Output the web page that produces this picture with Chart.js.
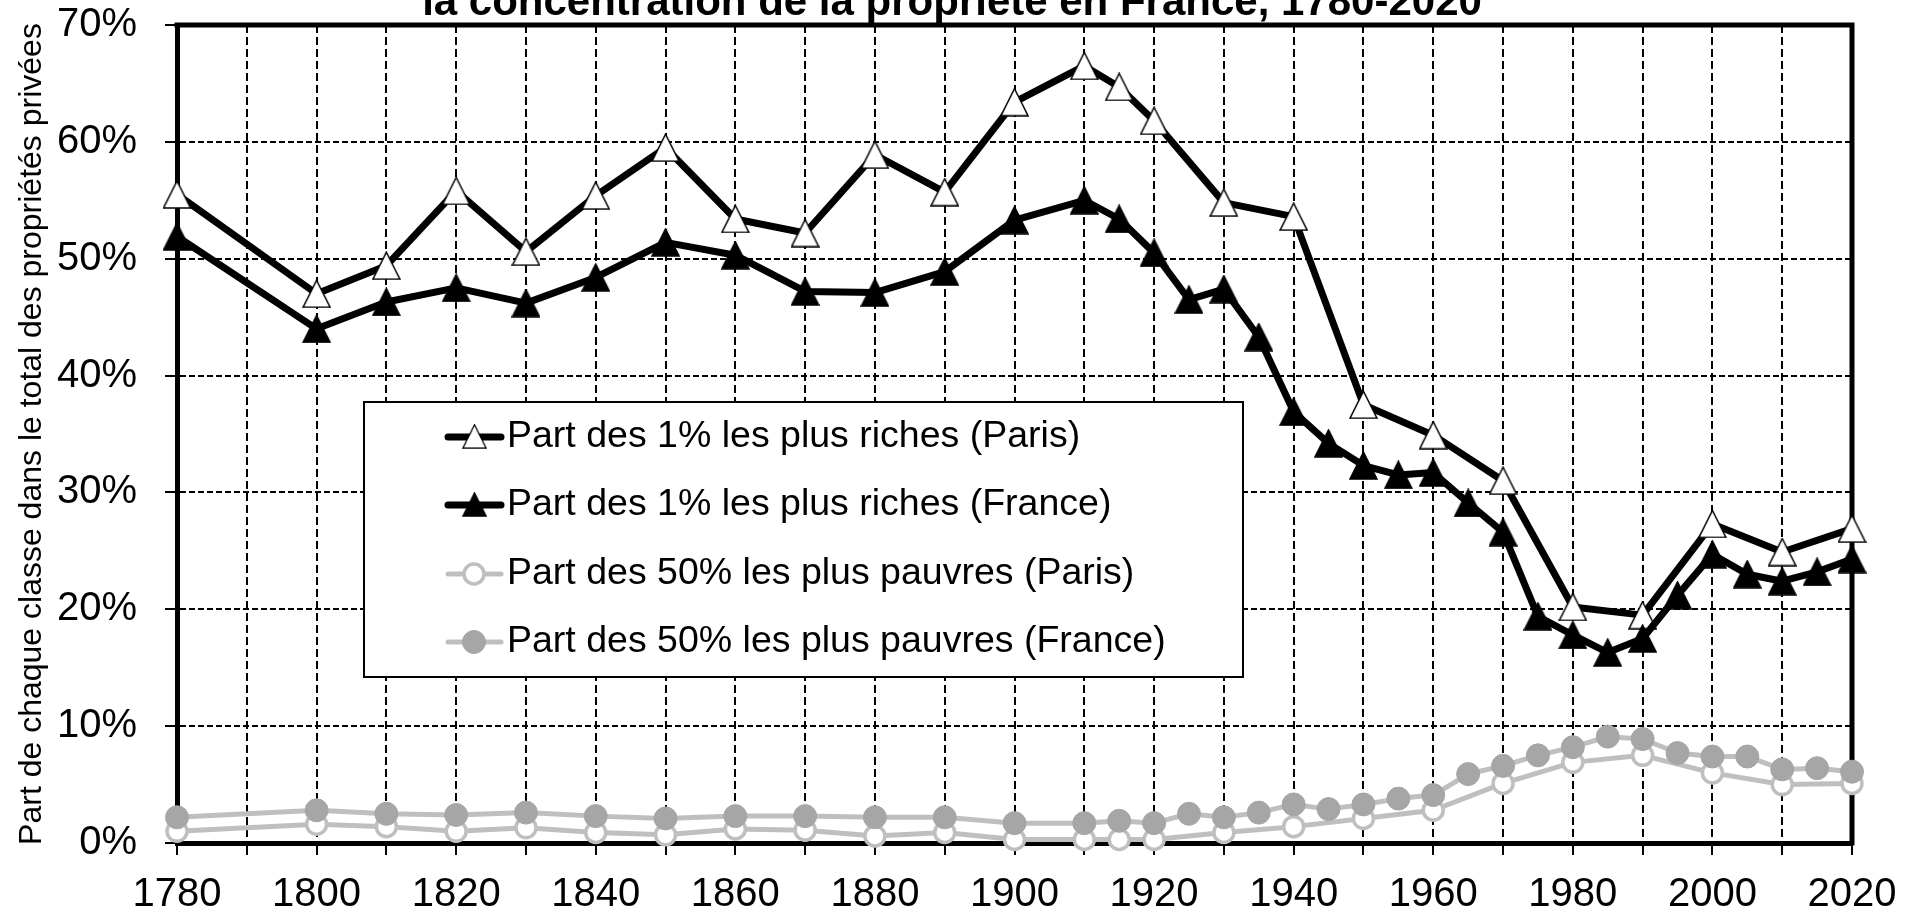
<!DOCTYPE html>
<html lang="fr">
<head>
<meta charset="utf-8">
<title>La concentration de la propriété en France, 1780-2020</title>
<script src="https://cdn.jsdelivr.net/npm/chart.js@4.4.1/dist/chart.umd.min.js"></script>
<style>
	html, body { margin: 0; padding: 0; background: #fff; }
	#chart { display: block; }
</style>
</head>
<body>
<canvas id="chart" width="1917" height="915"></canvas>
<script>
// Valeurs (en % du total des propriétés privées)
const parisYears = [1780, 1800, 1810, 1820, 1830, 1840, 1850, 1860, 1870, 1880, 1890, 1900, 1910, 1915, 1920, 1930, 1940, 1950, 1960, 1970, 1980, 1990, 2000, 2010, 2020]
const franceYears = [1780, 1800, 1810, 1820, 1830, 1840, 1850, 1860, 1870, 1880, 1890, 1900, 1910, 1915, 1920, 1925, 1930, 1935, 1940, 1945, 1950, 1955, 1960, 1965, 1970, 1975, 1980, 1985, 1990, 1995, 2000, 2005, 2010, 2015, 2020]

const parisTop1 = [55.5, 47.0, 49.4, 55.8, 50.6, 55.4, 59.5, 53.4, 52.2, 58.9, 55.7, 63.4, 66.5, 64.7, 61.8, 54.8, 53.6, 37.5, 34.9, 31.0, 20.2, 19.5, 27.3, 24.9, 26.9]
const franceTop1 = [51.9, 44.0, 46.3, 47.5, 46.2, 48.4, 51.4, 50.3, 47.2, 47.1, 48.9, 53.3, 55.0, 53.4, 50.5, 46.5, 47.4, 43.3, 36.9, 34.2, 32.3, 31.5, 31.7, 29.1, 26.6, 19.4, 17.8, 16.3, 17.5, 21.2, 24.7, 23.0, 22.4, 23.2, 24.3]
const parisBottom50 = [1.0, 1.6, 1.4, 1.0, 1.3, 0.9, 0.7, 1.2, 1.1, 0.6, 0.9, 0.3, 0.3, 0.3, 0.3, 0.9, 1.4, 2.1, 2.8, 5.1, 6.9, 7.5, 6.0, 5.0, 5.1]
const franceBottom50 = [2.2, 2.8, 2.5, 2.4, 2.6, 2.3, 2.1, 2.3, 2.3, 2.2, 2.2, 1.7, 1.7, 1.9, 1.7, 2.5, 2.2, 2.6, 3.3, 2.9, 3.3, 3.8, 4.1, 5.9, 6.6, 7.5, 8.2, 9.1, 8.9, 7.7, 7.4, 7.4, 6.3, 6.4, 6.1]

const seriesLabels = [
	'Part des 1% les plus riches (Paris)',
	'Part des 1% les plus riches (France)',
	'Part des 50% les plus pauvres (Paris)',
	'Part des 50% les plus pauvres (France)'
]
const titleText = 'la concentration de la propriété en France, 1780-2020'
const yTitle = 'Part de chaque classe dans le total des propriétés privées'

const FONT = "'Liberation Sans', Arial, sans-serif"
const GREY_LINE = '#bfbfbf'
const GREY_FILL = '#a6a6a6'

// triangle type Excel (aussi haut que large), utilisé comme pointStyle
function triangleMarker(fill) {
	const c = document.createElement('canvas')
	c.width = 29
	c.height = 29
	const g = c.getContext('2d')
	g.beginPath()
	g.moveTo(14.5, 1)
	g.lineTo(28, 28)
	g.lineTo(1, 28)
	g.closePath()
	g.fillStyle = fill
	g.fill()
	g.lineWidth = 1.5
	g.strokeStyle = '#000'
	g.stroke()
	return c
}

const toPoints = (xs, ys) => xs.map((x, i) => ({ x: x, y: ys[i] }))

// titre coupé en haut de l'image
const cutTitle = {
	id: 'cutTitle',
	afterDraw(chart) {
		const ctx = chart.ctx
		ctx.save()
		ctx.font = `bold 42px ${FONT}`
		ctx.fillStyle = '#000'
		ctx.textAlign = 'center'
		ctx.textBaseline = 'alphabetic'
		ctx.fillText(titleText, 952, 15)
		ctx.restore()
	}
}

// bords haut et droit du cadre
const frame = {
	id: 'frame',
	beforeDatasetsDraw(chart) {
		const { ctx, chartArea: a } = chart
		ctx.save()
		ctx.strokeStyle = '#000'
		ctx.lineWidth = 5
		ctx.setLineDash([])
		ctx.beginPath()
		ctx.moveTo(a.left - 2.5, a.top)
		ctx.lineTo(a.right, a.top)
		ctx.lineTo(a.right, a.bottom + 2.5)
		ctx.stroke()
		ctx.restore()
	}
}

// légende encadrée placée dans la zone du graphique
const boxLegend = {
	id: 'boxLegend',
	afterDatasetsDraw(chart) {
		const ctx = chart.ctx
		const box = { x: 364, y: 402, w: 879, h: 275 }
		const rows = [437, 505, 574, 642]
		ctx.save()
		ctx.fillStyle = '#fff'
		ctx.fillRect(box.x, box.y, box.w, box.h)
		ctx.lineWidth = 2
		ctx.strokeStyle = '#000'
		ctx.strokeRect(box.x, box.y, box.w, box.h)

		chart.data.datasets.forEach((ds, i) => {
			const y = rows[i]
			ctx.lineCap = 'round'
			ctx.lineWidth = ds.borderWidth
			ctx.strokeStyle = ds.borderColor
			ctx.beginPath()
			ctx.moveTo(448, y)
			ctx.lineTo(501, y)
			ctx.stroke()

			if (typeof ds.pointStyle === 'object') {
				ctx.drawImage(ds.pointStyle, 474 - 12, y - 13, 25, 25)
			} else {
				ctx.beginPath()
				ctx.arc(474, y, ds.pointRadius, 0, Math.PI * 2)
				ctx.fillStyle = ds.pointBackgroundColor
				ctx.fill()
				ctx.lineWidth = ds.pointBorderWidth
				ctx.strokeStyle = ds.pointBorderColor
				ctx.stroke()
			}

			ctx.fillStyle = '#000'
			ctx.font = `37.5px ${FONT}`
			ctx.textAlign = 'left'
			ctx.textBaseline = 'middle'
			ctx.fillText(ds.label, 507, y)
		})
		ctx.restore()
	}
}

new Chart(document.getElementById('chart'), {
	type: 'line',
	data: {
		datasets: [
			{
				label: seriesLabels[0],
				data: toPoints(parisYears, parisTop1),
				borderColor: '#000',
				borderWidth: 7,
				pointStyle: triangleMarker('#fff'),
				pointRadius: 14,
				order: 4,
			},
			{
				label: seriesLabels[1],
				data: toPoints(franceYears, franceTop1),
				borderColor: '#000',
				borderWidth: 7,
				pointStyle: triangleMarker('#000'),
				pointRadius: 14,
				order: 3,
			},
			{
				label: seriesLabels[2],
				data: toPoints(parisYears, parisBottom50),
				borderColor: GREY_LINE,
				borderWidth: 5,
				pointStyle: 'circle',
				pointRadius: 10,
				pointBorderWidth: 3.5,
				pointBackgroundColor: '#fff',
				pointBorderColor: GREY_LINE,
				order: 2,
			},
			{
				label: seriesLabels[3],
				data: toPoints(franceYears, franceBottom50),
				borderColor: GREY_LINE,
				borderWidth: 5,
				pointStyle: 'circle',
				pointRadius: 11.5,
				pointBorderWidth: 1,
				pointBackgroundColor: GREY_FILL,
				pointBorderColor: GREY_FILL,
				order: 1,
			}
		]
	},
	options: {
		responsive: false,
		animation: false,
		devicePixelRatio: 1,
		datasets: {
			line: {
				clip: false,
				tension: 0,
				borderJoinStyle: 'round',
				borderCapStyle: 'round',
			}
		},
		layout: {
			padding: { top: 0, right: 65, bottom: 0, left: 0 }
		},
		plugins: {
			legend: { display: false },
			tooltip: { enabled: false },
		},
		scales: {
			x: {
				type: 'linear',
				min: 1780,
				max: 2020,
				afterFit: (scale) => { scale.height = 72 },
				border: { display: true, color: '#000', width: 5, dash: [8, 4] },
				grid: { color: '#000', lineWidth: 2, tickLength: 12, tickWidth: 2, tickBorderDash: [] },
				ticks: {
					stepSize: 10,
					autoSkip: false,
					maxRotation: 0,
					padding: 16,
					color: '#000',
					font: { family: FONT, size: 40 },
					callback: (v) => (v % 20 === 0 ? String(v) : '')
				}
			},
			y: {
				min: 0,
				max: 70,
				afterFit: (scale) => {
					scale.width = 177
					scale.paddingTop = 25
					scale.paddingBottom = 0
				},
				border: { display: true, color: '#000', width: 5, dash: [6, 3] },
				grid: { color: '#000', lineWidth: 2, tickLength: 12, tickWidth: 2, tickBorderDash: [] },
				ticks: {
					stepSize: 10,
					padding: 28,
					color: '#000',
					font: { family: FONT, size: 40 },
					callback: (v) => v + '%'
				},
				title: {
					display: true,
					text: yTitle,
					color: '#000',
					font: { family: FONT, size: 32 },
					padding: { top: 13, bottom: 0 }
				}
			}
		}
	},
	plugins: [frame, boxLegend, cutTitle]
})
</script>
</body>
</html>
